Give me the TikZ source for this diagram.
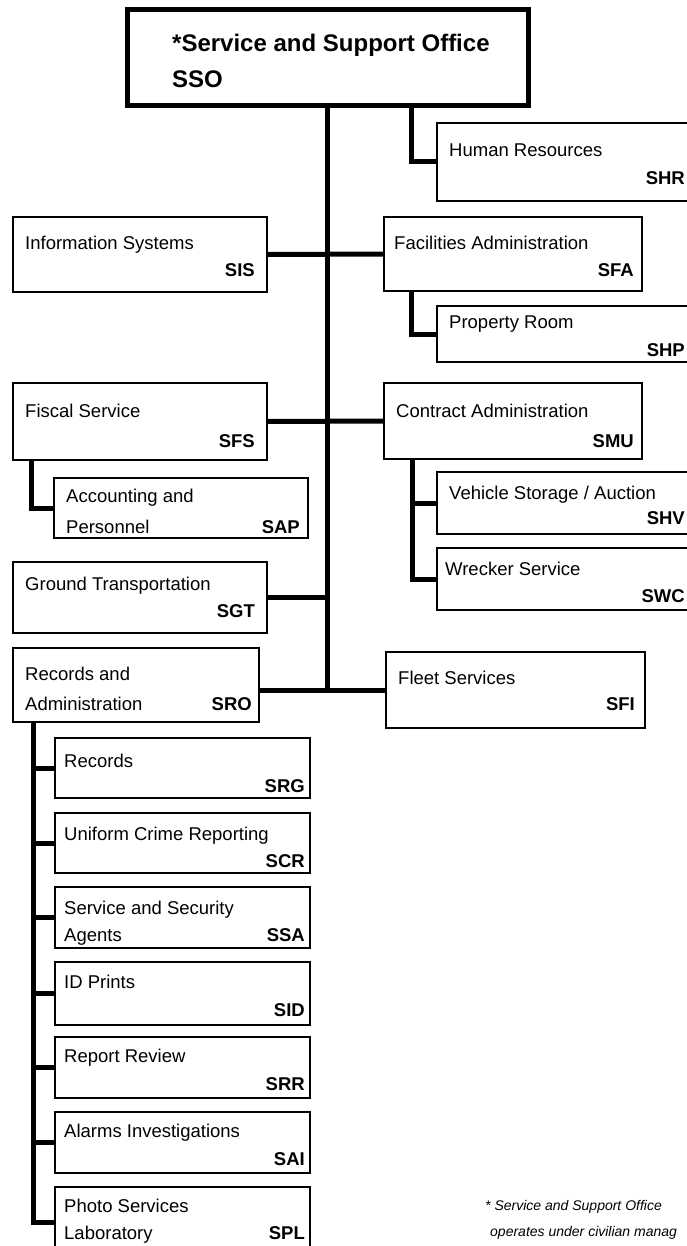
\documentclass[tikz,border=0pt]{standalone}
\usepackage{fontspec}
\setmainfont{Liberation Sans}
\begin{document}
\begin{tikzpicture}[x=1pt,y=-1pt,
  box/.style={draw=black, line width=1.3pt, rectangle, inner sep=0pt, outer sep=0pt, anchor=north west},
  topbox/.style={box, line width=5pt},
  nm/.style={anchor=base west, inner sep=0pt, font=\fontsize{18.5}{22}\selectfont},
  cd/.style={anchor=base east, inner sep=0pt, font=\fontsize{18.5}{22}\selectfont\bfseries},
  ttl/.style={anchor=base west, inner sep=0pt, font=\fontsize{24}{28}\selectfont\bfseries},
  conn/.style={line width=5pt, black},
  note/.style={anchor=base west, inner sep=0pt, font=\fontsize{14}{17}\selectfont\itshape}]
\useasboundingbox (0,0) rectangle (687,1246);
\begin{scope}
\clip (0,0) rectangle (687,1246);
% boxes
\node[topbox, minimum width=401pt, minimum height=96pt] (sso) at (127,10) {};
\node[box, minimum width=258pt, minimum height=78pt] (hr)  at (437,123) {};
\node[box, minimum width=254pt, minimum height=75pt] (is)  at (13,217) {};
\node[box, minimum width=258pt, minimum height=74pt] (fa)  at (384,217) {};
\node[box, minimum width=258pt, minimum height=56pt] (pr)  at (437,306) {};
\node[box, minimum width=254pt, minimum height=77pt] (fis) at (13,383) {};
\node[box, minimum width=258pt, minimum height=76pt] (con) at (384,383) {};
\node[box, minimum width=254pt, minimum height=60pt] (acc) at (54,478) {};
\node[box, minimum width=258pt, minimum height=62pt] (veh) at (437,472) {};
\node[box, minimum width=258pt, minimum height=62pt] (wre) at (437,548) {};
\node[box, minimum width=254pt, minimum height=71pt] (gt)  at (13,562) {};
\node[box, minimum width=246pt, minimum height=74pt] (sro) at (13,648) {};
\node[box, minimum width=259pt, minimum height=76pt] (fle) at (386,652) {};
\node[box, minimum width=255pt, minimum height=60pt] (srg) at (55,738) {};
\node[box, minimum width=255pt, minimum height=60pt] (scr) at (55,813) {};
\node[box, minimum width=255pt, minimum height=61pt] (ssa) at (55,887) {};
\node[box, minimum width=255pt, minimum height=63pt] (sid) at (55,962) {};
\node[box, minimum width=255pt, minimum height=61pt] (srr) at (55,1037) {};
\node[box, minimum width=255pt, minimum height=61pt] (sai) at (55,1112) {};
\node[box, minimum width=255pt, minimum height=70pt] (spl) at (55,1187) {};
% texts
\node[ttl] (sso-n1) at (172,52) {*Service and Support Office};
\node[ttl] (sso-n2) at (172,88) {SSO};
\node[nm] (hr-n) at (449,157) {Human Resources};
\node[cd] (hr-c) at (685,185) {SHR};
\node[nm] (is-n) at (25,250) {Information Systems};
\node[cd] (is-c) at (255,277) {SIS};
\node[nm] (fa-n) at (394,250) {Facilities Administration};
\node[cd] (fa-c) at (634,277) {SFA};
\node[nm] (pr-n) at (449,328) {Property Room};
\node[cd] (pr-c) at (685,356) {SHP};
\node[nm] (fis-n) at (25,417) {Fiscal Service};
\node[cd] (fis-c) at (255,447) {SFS};
\node[nm] (con-n) at (396,417) {Contract Administration};
\node[cd] (con-c) at (634,447) {SMU};
\node[nm] (acc-n1) at (66,502) {Accounting and};
\node[nm] (acc-n2) at (66,533) {Personnel};
\node[cd] (acc-c) at (300,533) {SAP};
\node[nm] (veh-n) at (449,499) {Vehicle Storage / Auction};
\node[cd] (veh-c) at (685,524) {SHV};
\node[nm] (wre-n) at (445,575) {Wrecker Service};
\node[cd] (wre-c) at (685,602) {SWC};
\node[nm] (gt-n) at (25,590) {Ground Transportation};
\node[cd] (gt-c) at (255,617) {SGT};
\node[nm] (sro-n1) at (25,680) {Records and};
\node[nm] (sro-n2) at (25,710) {Administration};
\node[cd] (sro-c) at (252,710) {SRO};
\node[nm] (fle-n) at (398,684) {Fleet Services};
\node[cd] (fle-c) at (635,710) {SFI};
\node[nm] (srg-n) at (64,767) {Records};
\node[cd] (srg-c) at (305,792) {SRG};
\node[nm] (scr-n) at (64,840) {Uniform Crime Reporting};
\node[cd] (scr-c) at (305,867) {SCR};
\node[nm] (ssa-n1) at (64,914) {Service and Security};
\node[nm] (ssa-n2) at (64,941) {Agents};
\node[cd] (ssa-c) at (305,941) {SSA};
\node[nm] (sid-n) at (64,988) {ID Prints};
\node[cd] (sid-c) at (305,1016) {SID};
\node[nm] (srr-n) at (64,1062) {Report Review};
\node[cd] (srr-c) at (305,1090) {SRR};
\node[nm] (sai-n) at (64,1137) {Alarms Investigations};
\node[cd] (sai-c) at (305,1165) {SAI};
\node[nm] (spl-n1) at (64,1212) {Photo Services};
\node[nm] (spl-n2) at (64,1239) {Laboratory};
\node[cd] (spl-c) at (305,1239) {SPL};
\node[note] (note1) at (485,1210) {* Service and Support Office};
\node[note] (note2) at (490,1236) {operates under civilian manag};
% connectors
\coordinate (hrx) at (411,0);
\coordinate (accx) at (31,0);
\coordinate (conx) at (412,0);
\coordinate (srox) at (33,0);
\coordinate (trunkx) at (327,0);
\coordinate (trunkbot) at ([yshift=-2.5pt]fle.west -| trunkx);
\draw[conn] (sso.south -| trunkx) -- (trunkbot);
\draw[conn] (is.east) -- (fa.west);
\draw[conn] (fis.east) -- (con.west);
\draw[conn] (gt.east) -- (gt.east -| trunkx);
\draw[conn] (sro.east |- fle.west) -- (fle.west);
\draw[conn] (sso.south -| hrx) |- (hr.west);
\draw[conn] (fa.south -| hrx) |- (pr.west);
\draw[conn] (fis.south -| accx) |- (acc.west);
\draw[conn] (con.south -| conx) |- (veh.west);
\draw[conn] (con.south -| conx) |- (wre.west);
\foreach \c in {srg,scr,ssa,sid,srr,sai,spl}{
  \draw[conn] (sro.south -| srox) |- (\c.west);
}
\end{scope}
\end{tikzpicture}
\end{document}
